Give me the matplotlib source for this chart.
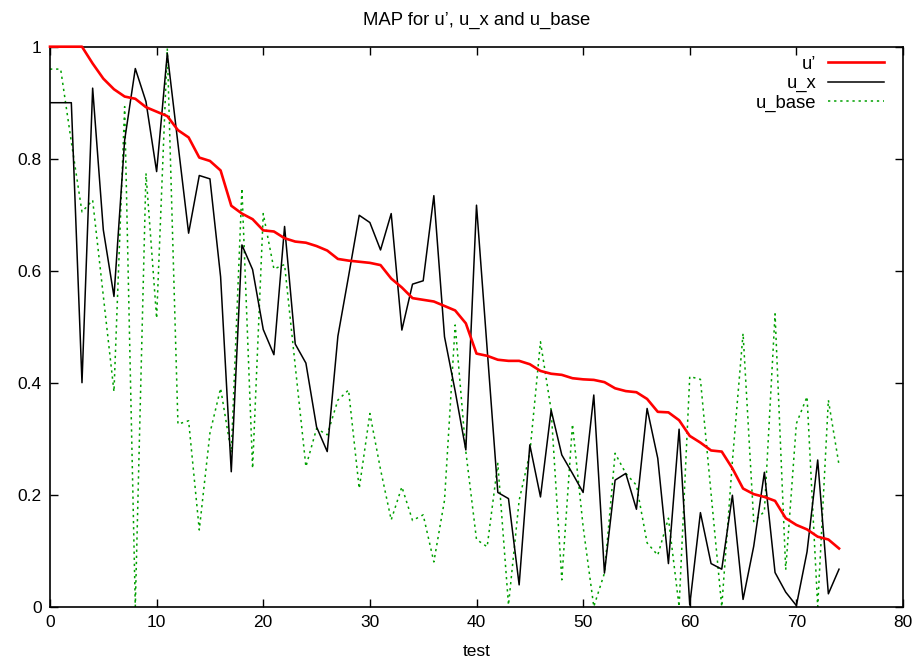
import matplotlib
matplotlib.use("Agg")
import matplotlib.pyplot as plt
import numpy as np

plt.rcParams['font.family'] = ['Liberation Sans', 'DejaVu Sans']

test = list(range(75))

u_prime = [1.0, 1.0, 1.0, 1.0, 0.970, 0.943, 0.924, 0.911, 0.907, 0.892,
           0.884, 0.876, 0.851, 0.838, 0.802, 0.796, 0.779, 0.716, 0.702, 0.692,
           0.672, 0.670, 0.658, 0.652, 0.650, 0.644, 0.636, 0.621, 0.618, 0.616,
           0.614, 0.610, 0.586, 0.570, 0.551, 0.548, 0.545, 0.537, 0.529, 0.506,
           0.452, 0.448, 0.441, 0.439, 0.439, 0.433, 0.421, 0.416, 0.414, 0.408,
           0.406, 0.405, 0.401, 0.390, 0.385, 0.383, 0.371, 0.348, 0.347, 0.333,
           0.305, 0.293, 0.279, 0.277, 0.247, 0.211, 0.201, 0.196, 0.189, 0.158,
           0.146, 0.138, 0.125, 0.120, 0.104]

u_x = [0.900, 0.900, 0.900, 0.400, 0.926, 0.673, 0.554, 0.833, 0.961, 0.902,
       0.777, 0.988, 0.827, 0.667, 0.770, 0.764, 0.589, 0.241, 0.646, 0.602,
       0.495, 0.450, 0.679, 0.469, 0.435, 0.321, 0.277, 0.483, 0.590, 0.699,
       0.686, 0.637, 0.702, 0.494, 0.576, 0.582, 0.734, 0.482, 0.385, 0.280,
       0.717, 0.460, 0.204, 0.193, 0.039, 0.289, 0.196, 0.351, 0.271, 0.238,
       0.204, 0.378, 0.060, 0.226, 0.238, 0.174, 0.354, 0.265, 0.077, 0.317,
       0.003, 0.168, 0.077, 0.067, 0.199, 0.013, 0.108, 0.240, 0.061, 0.026,
       0.002, 0.098, 0.262, 0.023, 0.067]

u_base = [0.960, 0.960, 0.830, 0.705, 0.726, 0.555, 0.384, 0.893, 0.000, 0.774,
          0.515, 0.997, 0.326, 0.332, 0.137, 0.310, 0.390, 0.275, 0.747, 0.247,
          0.702, 0.603, 0.611, 0.430, 0.250, 0.318, 0.307, 0.369, 0.387, 0.211,
          0.345, 0.245, 0.155, 0.214, 0.154, 0.164, 0.080, 0.190, 0.503, 0.277,
          0.120, 0.107, 0.256, 0.003, 0.190, 0.274, 0.473, 0.351, 0.048, 0.326,
          0.143, 0.000, 0.060, 0.274, 0.238, 0.217, 0.114, 0.092, 0.158, 0.000,
          0.411, 0.406, 0.202, 0.000, 0.260, 0.488, 0.152, 0.170, 0.523, 0.066,
          0.327, 0.375, 0.000, 0.369, 0.253]

x_ticks = [0, 10, 20, 30, 40, 50, 60, 70, 80]
y_ticks = [0, 0.2, 0.4, 0.6, 0.8, 1.0]
y_tick_labels = ["0", "0.2", "0.4", "0.6", "0.8", "1"]

fs = 12.5
fs_big = 13.3

fig = plt.figure(figsize=(9.17, 6.62), dpi=100)
ax = fig.add_axes([50/917, 1 - 606.7/662, 853/917, 560/662])

ax.plot(test, u_prime, color='#ff0000', lw=1.9, label='u’', zorder=3, clip_on=False)
ax.plot(test, u_x, color='#000000', lw=1.1, label='u_x', zorder=2)
ax.plot(test, u_base, color='#00a000', lw=1.1, linestyle=(0, (1.5, 2.5)), label='u_base', zorder=1)

ax.set_xlim(0, 80)
ax.set_ylim(0, 1)
ax.set_xticks(x_ticks)
ax.set_xticklabels([str(v) for v in x_ticks])
ax.set_yticks(y_ticks)
ax.set_yticklabels(y_tick_labels)
ax.tick_params(direction='in', length=6, width=1, top=True, right=True,
               labelsize=fs, pad=6, colors='black')
for s in ax.spines.values():
    s.set_linewidth(1.2)

ax.set_xlabel('test', fontsize=fs, labelpad=10)
ax.set_title('MAP for u’, u_x and u_base', fontsize=fs_big, pad=16)

leg = ax.legend(loc='upper right', frameon=False, markerfirst=False,
                alignment='right', fontsize=fs_big, handlelength=3.0,
                labelspacing=0.12, handletextpad=0.65,
                bbox_to_anchor=(0.988, 1.0), borderaxespad=0.1)

fig.savefig('out.png', dpi=100)
